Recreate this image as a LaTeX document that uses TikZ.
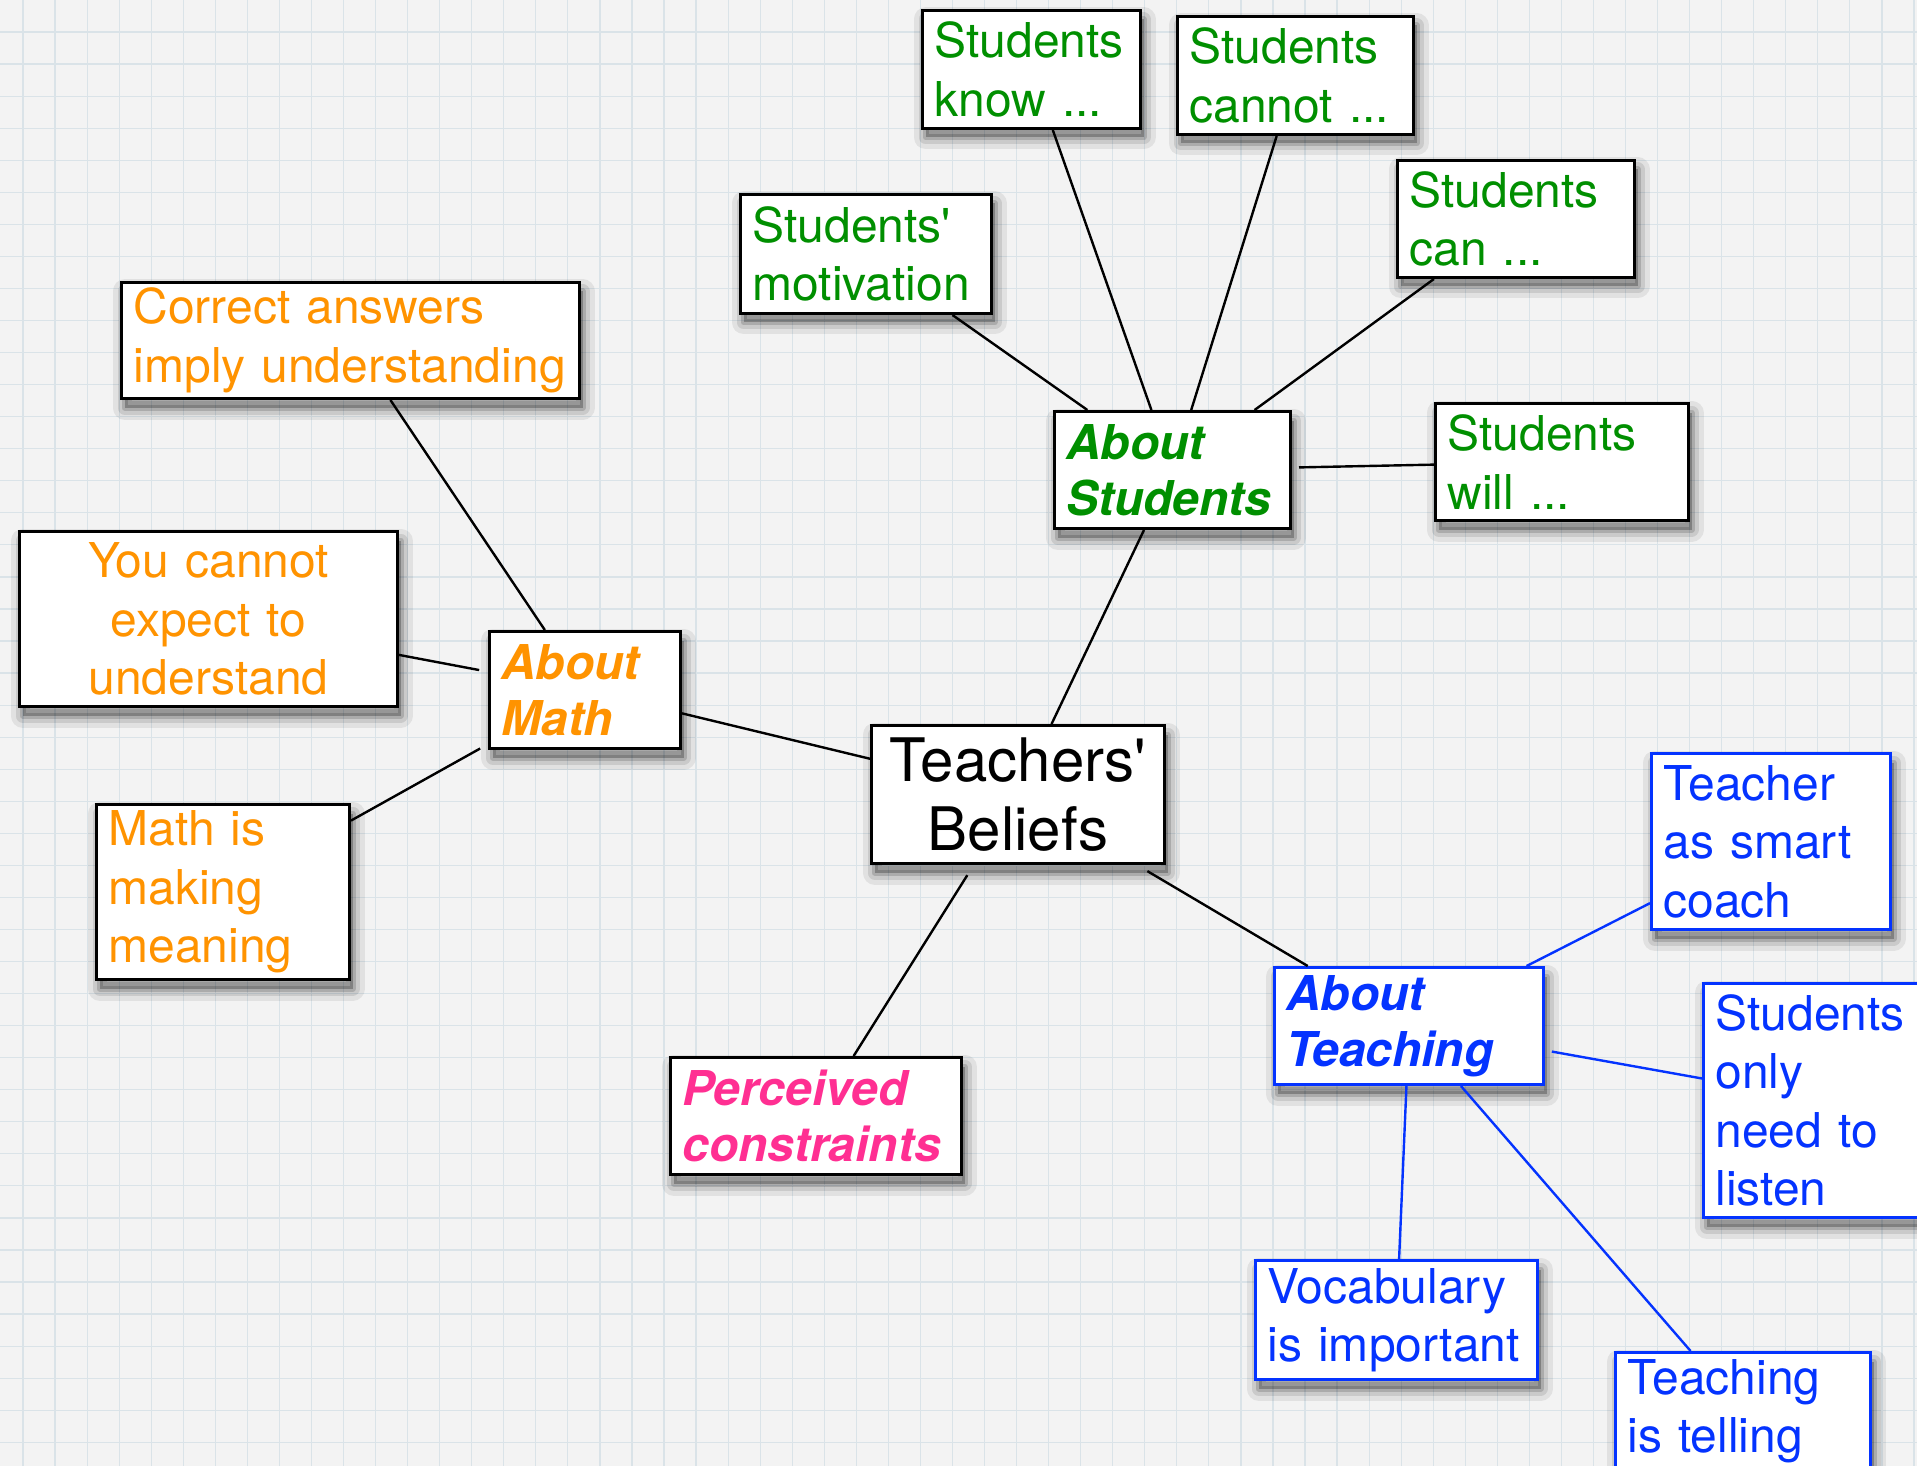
\documentclass[tikz,border=0pt]{standalone}
\usepackage{fontspec}
\setmainfont{TeX Gyre Heros}

\definecolor{paper}{RGB}{243,243,243}
\definecolor{gridc}{RGB}{218,227,232}
\definecolor{kgreen}{RGB}{0,143,0}
\definecolor{korange}{RGB}{255,147,0}
\definecolor{kblue}{RGB}{4,51,255}
\definecolor{kpink}{RGB}{255,47,146}

\tikzset{
  % soft drop shadow built from a few translucent rings
  softshadow/.style={
    preaction={draw=black, draw opacity=0.07, line width=12pt, line join=round,
      transform canvas={shift={(1.5pt,-4.5pt)}}},
    preaction={draw=black, draw opacity=0.10, line width=7pt, line join=round,
      transform canvas={shift={(1.5pt,-4.5pt)}}},
    preaction={draw=black, draw opacity=0.15, line width=3pt, line join=round,
      fill=black, fill opacity=0.25, transform canvas={shift={(1.5pt,-4.5pt)}}}},
  card/.style={softshadow, draw=black, line width=1.5pt, fill=white,
    inner xsep=6pt, inner ysep=0pt, align=left, anchor=north west},
  plain/.style={card, font=\fontsize{24}{29.2}\selectfont},
  heading/.style={card, font=\fontsize{24}{28}\selectfont\bfseries\itshape},
  centre/.style={card, font=\fontsize{30}{34.5}\selectfont, align=center},
  greenbox/.style={text=kgreen},
  orangebox/.style={text=korange},
  pinkbox/.style={text=kpink},
  bluebox/.style={text=kblue, draw=kblue},
  link/.style={line width=1.2pt, draw=black},
  bluelink/.style={line width=1.2pt, draw=kblue},
  gridline/.style={line width=0.6pt, draw=gridc}
}

\begin{document}
\begin{tikzpicture}[x=0.5pt,y=-0.5pt]
\useasboundingbox (0,0) rectangle (1917,1466);

% squared paper
\fill[paper] (0,0) rectangle (1917,1466);
\foreach \i in {0,...,59}
  \draw[gridline] ({23+32.05*\i},0) -- ({23+32.05*\i},1466);
\foreach \j in {1,...,45}
  \draw[gridline] (0,{32.05*\j}) -- (1917,{32.05*\j});

% centre
\node[centre, text width=134.5pt, minimum height=69pt] (tb) at (870,724) {Teachers\textquotesingle\\Beliefs};

% about students
\node[heading, greenbox, text width=106pt, minimum height=58.5pt] (as) at (1053,410) {About\\Students};
\node[plain, greenbox, text width=97pt, minimum height=59pt] (sk) at (921,9) {Students\\know ...};
\node[plain, greenbox, text width=106pt, minimum height=59pt] (sc) at (1176,15) {Students\\cannot ...};
\node[plain, greenbox, text width=106.5pt, minimum height=58.5pt] (scan) at (1396,159) {Students\\can ...};
\node[plain, greenbox, text width=113.5pt, minimum height=59.5pt] (sm) at (739,193) {Students\textquotesingle\\motivation};
\node[plain, greenbox, text width=114.5pt, minimum height=58.5pt] (sw) at (1434,402) {Students\\will ...};

% about math
\node[heading, orangebox, text width=83.5pt, minimum height=58.5pt] (am) at (488,630) {About\\Math};
\node[plain, orangebox, text width=217pt, minimum height=58pt] (ca) at (120,281) {Correct answers\\imply~understanding};
\node[plain, orangebox, align=center, text width=177pt, minimum height=87.5pt] (yc) at (18,530) {You cannot\\expect to\\understand};
\node[plain, orangebox, text width=114.5pt, minimum height=87.5pt] (mm) at (95,803) {Math is\\making\\meaning};

% constraints
\node[heading, pinkbox, text width=133.5pt, minimum height=58.5pt] (pc) at (669,1056) {Perceived\\constraints};

% about teaching
\node[heading, bluebox, text width=122.5pt, minimum height=58.5pt] (at) at (1273,966) {About\\Teaching};
\node[plain, bluebox, text width=107.5pt, minimum height=88pt] (tsc) at (1650,752) {Teacher\\as smart\\coach};
\node[plain, bluebox, text width=109.5pt, minimum height=117pt] (sonl) at (1702,982) {Students\\only\\need to\\listen};
\node[plain, bluebox, text width=129pt, minimum height=59.5pt] (vi) at (1254,1259) {Vocabulary\\is~important};
\node[plain, bluebox, text width=115.5pt, minimum height=59pt] (tit) at (1614,1351) {Teaching\\is telling};

% connectors, border to border
\draw[link] (tb) -- (as);
\draw[link] (tb) -- (am);
\draw[link, shorten <=6pt] (tb) -- (pc);
\draw[link, shorten <=6pt] (tb) -- (at);

\draw[link] (as) -- (sk);
\draw[link] (as) -- (sc);
\draw[link] (as) -- (scan);
\draw[link] (as) -- (sm);
\draw[link, shorten <=3.5pt] (as) -- (sw);

\draw[link] (am) -- (ca);
\draw[link, shorten <=4.5pt] (am) -- (yc);
\draw[link, shorten <=4.5pt] (am) -- (mm);

\draw[bluelink] (at) -- (tsc);
\draw[bluelink, shorten <=3.5pt] (at) -- (sonl);
\draw[bluelink] (at) -- (vi);
\draw[bluelink] (at) -- (tit);
\end{tikzpicture}
\end{document}
